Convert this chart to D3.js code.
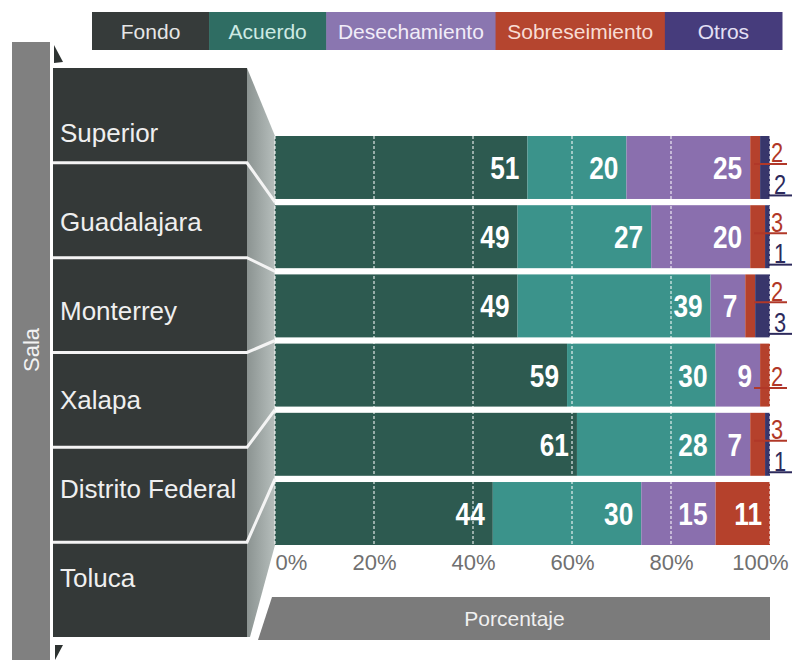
<!DOCTYPE html>
<html>
<head>
<meta charset="utf-8">
<script src="https://cdn.jsdelivr.net/npm/d3@7"></script>
<style>
  body { margin: 0; background: #fff; }
  svg { display: block; font-family: "Liberation Sans", Arial, sans-serif; }
</style>
</head>
<body>
<div id="chart"></div>
<script>
// categories and series
var salas = ["Superior", "Guadalajara", "Monterrey", "Xalapa", "Distrito Federal", "Toluca"];
var series = ["Fondo", "Acuerdo", "Desechamiento", "Sobreseimiento", "Otros"];

// percentages per sala, as printed on the bars
var fondo          = [51, 49, 49, 59, 61, 44];
var acuerdo        = [20, 27, 39, 30, 28, 30];
var desechamiento  = [25, 20,  7,  9,  7, 15];
var sobreseimiento = [ 2,  3,  2,  2,  3, 11];
var otros          = [ 2,  1,  3,  0,  1,  0];

var tickValues = [0, 20, 40, 60, 80, 100];

var barColors    = ["#2d5a50", "#3b938b", "#8a6fae", "#b5412c", "#38366b"];
var legendColors = ["#363b3a", "#2f6d63", "#8a76b0", "#b5452f", "#463c7c"];
var legendText   = ["#e6e6e6", "#cdeae3", "#f1ecf8", "#f8dcd4", "#e4e0f4"];

var W = 799, H = 660;

var svg = d3.select("#chart").append("svg")
  .attr("width", W)
  .attr("height", H);

// build the table for the stack
var table = salas.map(function(s, i) {
  return { sala: s, Fondo: fondo[i], Acuerdo: acuerdo[i], Desechamiento: desechamiento[i],
           Sobreseimiento: sobreseimiento[i], Otros: otros[i] };
});
var stacked = d3.stack().keys(series)(table);

var color = d3.scaleOrdinal().domain(series).range(barColors);

// scales
var x = d3.scaleLinear().domain([0, 100]).range([275, 770]);
var y = d3.scaleBand().domain(salas).range([136, 545]).paddingInner(0.09);
var rows = d3.scaleBand().domain(salas).range([68, 637]);
var labelY = d3.scalePoint().domain(salas).range([133, 578]);

var panelLeft = 53, panelRight = 247;

// gray "Sala" bar on the left
svg.append("rect")
  .attr("x", 12).attr("y", 42)
  .attr("width", 38).attr("height", H - 42)
  .attr("fill", "#808080");

svg.append("text")
  .attr("transform", "translate(31,350) rotate(-90)")
  .attr("text-anchor", "middle")
  .attr("dy", "0.36em")
  .style("font-size", "22px")
  .style("fill", "#f2f2f2")
  .text("Sala");

// little arrow corners
svg.append("path").attr("d", "M54,45 L54,63 L63,62 Z").attr("fill", "#2e3332");
svg.append("path").attr("d", "M55,645 L63,645 L55,660 Z").attr("fill", "#2e3332");

// legend
var legend = svg.append("g");
var legendItems = legend.selectAll("g")
  .data(series)
  .enter()
  .append("g");
legendItems.append("rect").attr("fill", function(d, i) { return legendColors[i]; });
legendItems.append("text")
  .attr("text-anchor", "middle")
  .attr("dy", "0.36em")
  .style("font-size", "21px")
  .style("fill", function(d, i) { return legendText[i]; })
  .text(function(d) { return d; });

var boxW = [];
legendItems.select("text").each(function() {
  boxW.push(Math.max(112, this.getComputedTextLength() + 16));
});
var total = d3.sum(boxW);
var fit = (782 - 92) / total;
var lx = 92;
legendItems.each(function(d, i) {
  var w = boxW[i] * fit;
  var g = d3.select(this);
  g.select("rect").attr("x", lx).attr("y", 12).attr("width", w + 0.5).attr("height", 38);
  g.select("text").attr("x", lx + w / 2).attr("y", 31);
  lx += w;
});

// dark label panel
svg.append("rect")
  .attr("x", panelLeft).attr("y", rows.range()[0])
  .attr("width", panelRight - panelLeft)
  .attr("height", rows.range()[1] - rows.range()[0])
  .attr("fill", "#343938");

// side face joining panel and bars
var grad = svg.append("defs").append("linearGradient")
  .attr("id", "face").attr("x1", "0").attr("x2", "1").attr("y1", "0").attr("y2", "0");
grad.append("stop").attr("offset", "0").attr("stop-color", "#8b9391");
grad.append("stop").attr("offset", "1").attr("stop-color", "#b6bebc");

var faceTop = y(salas[0]);
var faceBottom = y(salas[salas.length - 1]) + y.bandwidth();
svg.append("path")
  .attr("d", "M" + panelRight + "," + rows.range()[0] +
             " L" + x(0) + "," + faceTop +
             " L" + x(0) + "," + faceBottom +
             " L" + (panelRight + 3) + "," + rows.range()[1] +
             " L" + panelRight + "," + rows.range()[1] + " Z")
  .attr("fill", "url(#face)");

// row separators and connectors
var gap = y.step() - y.bandwidth();
salas.slice(1).forEach(function(s) {
  var py = rows(s);
  var by = y(s) - gap / 2;
  svg.append("path")
    .attr("d", "M" + panelLeft + "," + py + " L" + panelRight + "," + py + " L" + x(0) + "," + by)
    .attr("fill", "none")
    .attr("stroke", "#f4f4f4")
    .attr("stroke-width", 3);
});

// panel labels
svg.append("g").selectAll("text")
  .data(salas)
  .enter()
  .append("text")
    .attr("x", 60)
    .attr("y", function(d) { return labelY(d); })
    .attr("dy", "0.36em")
    .style("font-size", "26px")
    .style("fill", "#efefef")
    .text(function(d) { return d; });

// bars
var layers = svg.append("g").selectAll("g")
  .data(stacked)
  .enter()
  .append("g")
    .attr("fill", function(d) { return color(d.key); });

layers.selectAll("rect")
  .data(function(d) { return d; })
  .enter()
  .append("rect")
    .attr("x", function(d) { return x(d[0]); })
    .attr("y", function(d) { return y(d.data.sala); })
    .attr("width", function(d) { return x(d[1]) - x(d[0]); })
    .attr("height", y.bandwidth());

// dashed gridlines on top of the bars
svg.append("g").selectAll("line")
  .data(tickValues)
  .enter()
  .append("line")
    .attr("x1", function(d) { return x(d); })
    .attr("x2", function(d) { return x(d); })
    .attr("y1", faceTop)
    .attr("y2", faceBottom)
    .attr("stroke", "#ffffff")
    .attr("stroke-opacity", 0.85)
    .attr("stroke-width", 1.2)
    .attr("stroke-dasharray", "3,2");

// value labels inside the segments
var inside = [];
stacked.forEach(function(layer) {
  layer.forEach(function(d) {
    var v = d[1] - d[0];
    if (v >= 5) inside.push({ v: v, end: d[1], sala: d.data.sala });
  });
});

svg.append("g").selectAll("text")
  .data(inside)
  .enter()
  .append("text")
    .attr("transform", function(d) {
      return "translate(" + (x(d.end) - 8) + "," + (y(d.sala) + y.bandwidth() / 2) + ") scale(0.82,1)";
    })
    .attr("text-anchor", "end")
    .attr("dy", "0.36em")
    .style("font-size", "32px")
    .style("font-weight", "bold")
    .style("fill", "#ffffff")
    .text(function(d) { return d.v; });

// small values written outside, underlined
var outside = [];
salas.forEach(function(s, i) {
  var hasOtros = otros[i] > 0;
  if (sobreseimiento[i] < 5) {
    outside.push({ sala: s, v: sobreseimiento[i], key: "Sobreseimiento",
                   pos: hasOtros ? 0.42 : 0.68, x0: -16, x1: 17, tx: 1 });
  }
  if (hasOtros) {
    outside.push({ sala: s, v: otros[i], key: "Otros", pos: 0.92, x0: -2, x1: 22, tx: 4 });
  }
});

var labelColor = { Sobreseimiento: "#b13828", Otros: "#2d2a5c" };

var out = svg.append("g").selectAll("g")
  .data(outside)
  .enter()
  .append("g");

out.append("text")
  .attr("transform", function(d) {
    return "translate(" + (x(100) + d.tx) + "," + (y(d.sala) + y.bandwidth() * d.pos) + ") scale(0.78,1)";
  })
  .style("font-size", "28px")
  .style("fill", function(d) { return labelColor[d.key]; })
  .text(function(d) { return d.v; });

out.append("line")
  .attr("x1", function(d) { return x(100) + d.x0; })
  .attr("x2", function(d) { return x(100) + d.x1; })
  .attr("y1", function(d) { return y(d.sala) + y.bandwidth() * d.pos + 1.5; })
  .attr("y2", function(d) { return y(d.sala) + y.bandwidth() * d.pos + 1.5; })
  .attr("stroke", function(d) { return labelColor[d.key]; })
  .attr("stroke-width", 2);

// x axis labels
var axis = svg.append("g")
  .attr("transform", "translate(0,562)")
  .call(d3.axisBottom(x).tickValues(tickValues).tickFormat(function(d) { return d + "%"; }).tickSize(0));
axis.select(".domain").remove();
axis.attr("font-family", null).attr("font-size", null);
axis.selectAll("text")
  .attr("y", 0)
  .attr("dy", "0.36em")
  .style("font-size", "22px")
  .style("fill", "#707070")
  .attr("text-anchor", function(d) { return d === 0 ? "start" : (d === 100 ? "end" : "middle"); })
  .attr("dx", function(d) { return d === 100 ? 18 : 0; });

// "Porcentaje" bar
svg.append("path")
  .attr("d", "M" + (x(0) - 3) + ",597 L" + x(100) + ",597 L" + x(100) + ",640 L" + (x(0) - 17) + ",640 Z")
  .attr("fill", "#7b7b7b");

svg.append("text")
  .attr("x", (x(0) + x(100)) / 2 - 8)
  .attr("y", 618)
  .attr("dy", "0.36em")
  .attr("text-anchor", "middle")
  .style("font-size", "21px")
  .style("fill", "#f0f0f0")
  .text("Porcentaje");
</script>
</body>
</html>
